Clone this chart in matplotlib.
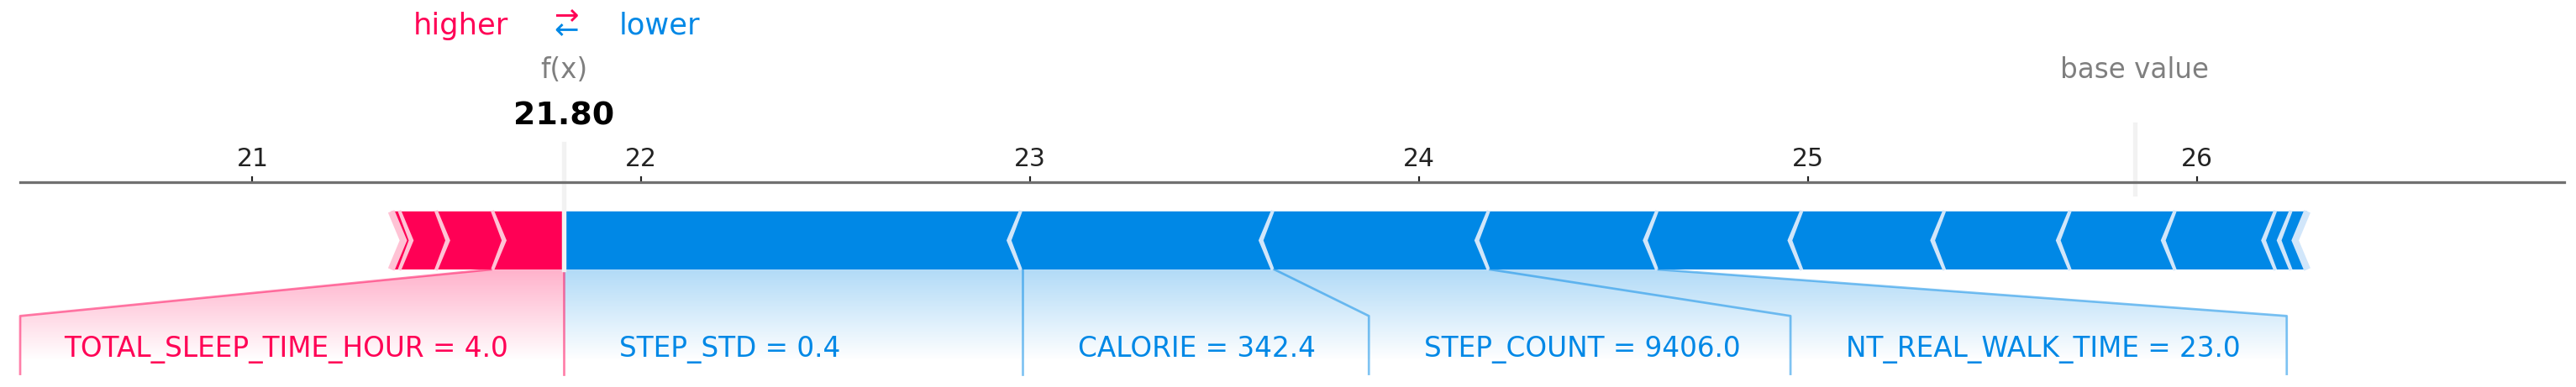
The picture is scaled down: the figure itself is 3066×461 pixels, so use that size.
import numpy as np
import matplotlib
matplotlib.use("Agg")
import matplotlib.pyplot as plt
from matplotlib import lines
from matplotlib.path import Path
from matplotlib.patches import PathPatch, Polygon
from matplotlib.font_manager import FontProperties
from matplotlib.ticker import MaxNLocator
import matplotlib.colors as mcolors

# ---------------- data (SHAP force plot) ----------------
base_value = 25.84
out_name = "f(x)"

# features pushing the prediction higher (positive SHAP values)
pos_effects = [0.188, 0.145, 0.094, 0.017]
pos_names = ["TOTAL_SLEEP_TIME_HOUR", None, None, None]
pos_values = ["4.0", None, None, None]

# features pushing the prediction lower (negative SHAP values)
neg_effects = [-1.179, -0.648, -0.555, -0.433, -0.372, -0.367, -0.323,
               -0.270, -0.258, -0.040, -0.038]
neg_names = ["STEP_STD", "CALORIE", "STEP_COUNT", "NT_REAL_WALK_TIME",
             None, None, None, None, None, None, None]
neg_values = ["0.4", "342.4", "9406.0", "23.0",
              None, None, None, None, None, None, None]

# ---------------- styling ----------------
POS_COL = "#FF0055"
POS_LIGHT = "#FFC3D5"
NEG_COL = "#0088E6"
NEG_LIGHT = "#D1E6FA"

DPI = 195.4
W, H = 3066, 461
fig = plt.figure(figsize=((W + 0.02) / DPI, (H + 0.02) / DPI), dpi=DPI)
fig.patch.set_facecolor("white")

ax_left_px, ax_right_px = 24, 3052
y_zero_px, y_scale = 321.0, 692.0
ylim = (-0.5, 0.15)
top_px = y_zero_px - y_scale * ylim[1]
bot_px = y_zero_px - y_scale * ylim[0]
ax = fig.add_axes([ax_left_px / W, 1 - bot_px / H,
                   (ax_right_px - ax_left_px) / W, (bot_px - top_px) / H])
ax.patch.set_alpha(0)

out_value = base_value + float(np.sum(pos_effects)) + float(np.sum(neg_effects))

pos_cum = out_value - np.cumsum(np.abs(pos_effects))
neg_cum = out_value + np.cumsum(np.abs(neg_effects))
total_pos = pos_cum.max() - pos_cum.min()
total_neg = neg_cum.max() - neg_cum.min()
offset_text = (abs(total_neg) + abs(total_pos)) * 0.04

# axis limits
ax.set_ylim(*ylim)
padding = max(abs(total_pos) * 0.2, abs(total_neg) * 0.2)
xmin = min(pos_cum.min(), base_value) - padding
xmax = max(neg_cum.max(), base_value) + padding
ax.set_xlim(xmin, xmax)
ax.tick_params(top=True, bottom=False, left=False, right=False,
               labelleft=False, labeltop=True, labelbottom=False,
               labelsize=11, length=2.6, pad=2.2, colors="#222222")
ax.xaxis.set_major_locator(MaxNLocator(nbins=12, steps=[1, 2, 2.5, 5, 10]))
for key, spine in ax.spines.items():
    if key != "top":
        spine.set_visible(False)
ax.spines["top"].set_color("#707070")
ax.spines["top"].set_linewidth(1.2)
ax.set_yticks([])

width_bar = 0.1
width_sep = (xmax - xmin) / 200


def draw_bars(cum, kind):
    pre_val = out_value
    for index, v in enumerate(cum):
        if kind == "positive":
            left, right = v, pre_val
            pre_val = left
            ind = abs(width_sep)
            sep_pos = left
            cols = [POS_COL, POS_LIGHT]
        else:
            left, right = pre_val, v
            pre_val = right
            ind = -abs(width_sep)
            sep_pos = right
            cols = [NEG_COL, NEG_LIGHT]
        if index == 0:
            if kind == "positive":
                pts = [[left, 0], [right, 0], [right, width_bar],
                       [left, width_bar], [left + ind, width_bar / 2]]
            else:
                pts = [[right, 0], [left, 0], [left, width_bar],
                       [right, width_bar], [right + ind, width_bar / 2]]
        else:
            pts = [[left, 0], [right, 0], [right + ind * 0.9, width_bar / 2],
                   [right, width_bar], [left, width_bar],
                   [left + ind * 0.9, width_bar / 2]]
        ax.add_patch(Polygon(pts, closed=True, fill=True, facecolor=cols[0], linewidth=0))
        ax.add_patch(Polygon([[sep_pos, 0], [sep_pos + ind, width_bar / 2],
                              [sep_pos, width_bar]], closed=False, fill=False,
                             edgecolor=cols[1], lw=3))


draw_bars(neg_cum, "negative")
draw_bars(pos_cum, "positive")


def draw_labels(cum, names, values, kind):
    start_text = out_value
    pre_val = out_value
    if kind == "positive":
        col, align, sign = POS_COL, "right", 1
        base_rgb = mcolors.to_rgb(POS_COL)
    else:
        col, align, sign = NEG_COL, "left", -1
        base_rgb = mcolors.to_rgb(NEG_COL)
    if kind == "positive":
        ln = lines.Line2D([pre_val, pre_val], [0, -0.18], lw=1.0, alpha=0.5, color=col)
        ln.set_clip_on(False)
        ax.add_line(ln)
    box_end = out_value
    for v, name, value in zip(cum, names, values):
        if name is None:
            break
        text = name + " = " + value
        t = ax.text(start_text - sign * offset_text, -0.15, text, fontsize=12,
                    color=col, ha=align, va="baseline")
        t.set_bbox(dict(facecolor="none", edgecolor="none"))
        fig.canvas.draw()
        box = t.get_bbox_patch().get_extents().transformed(ax.transData.inverted())
        box_end_ = box.get_points()[0][0] if kind == "positive" else box.get_points()[1][0]
        if box_end_ > ax.get_xlim()[1]:
            t.remove()
            break
        if sign * box_end_ > sign * v:
            ln = lines.Line2D([v, v], [0, -0.18], lw=1.0, alpha=0.5, color=col)
            ln.set_clip_on(False)
            ax.add_line(ln)
            start_text = v
            box_end = v
        else:
            box_end = box_end_ - sign * offset_text
            ln = lines.Line2D([v, box_end, box_end], [0, -0.08, -0.18],
                              lw=1.0, alpha=0.5, color=col)
            ln.set_clip_on(False)
            ax.add_line(ln)
            start_text = box_end
        pre_val = v

    path = Path([[out_value, 0], [pre_val, 0], [box_end, -0.08],
                 [box_end, -0.2], [out_value, -0.2], [out_value, 0]])
    patch = PathPatch(path, facecolor="none", edgecolor="none")
    ax.add_patch(patch)
    lo, hi = ax.get_xlim()
    if box_end < lo:
        ax.set_xlim(box_end, hi)
    if box_end > hi:
        ax.set_xlim(lo, box_end)
    cm = mcolors.LinearSegmentedColormap.from_list("cm", [base_rgb, (1, 1, 1)])
    _, Z2 = np.meshgrid(np.linspace(0, 10), np.linspace(-10, 10))
    im = ax.imshow(Z2, interpolation="quadric", cmap=cm, vmax=0.01, alpha=0.3,
                   origin="lower", extent=[out_value, box_end, 0, -0.31],
                   clip_path=patch, clip_on=True, aspect="auto")
    im.set_clip_path(patch)


draw_labels(neg_cum, neg_names, neg_values, "negative")
draw_labels(pos_cum, pos_names, pos_values, "positive")

# higher / lower legend
ax.text(out_value - offset_text, 0.405, "higher", fontsize=13, color=POS_COL, ha="right")
ax.text(out_value + offset_text, 0.405, "lower", fontsize=13, color=NEG_COL, ha="left")
ax.text(out_value, 0.4, r"$\leftarrow$", fontsize=13, color=NEG_COL, ha="center")
ax.text(out_value, 0.425, r"$\rightarrow$", fontsize=13, color=POS_COL, ha="center")

# base value element
ln = lines.Line2D([base_value, base_value], [0.13, 0.25], lw=2.0, color="#F2F2F2")
ln.set_clip_on(False)
ax.add_line(ln)
t = ax.text(base_value, 0.33, "base value", fontsize=12, alpha=0.5, ha="center")
t.set_bbox(dict(facecolor="white", edgecolor="white"))

# output element
ln = lines.Line2D([out_value, out_value], [0, 0.24], lw=2.0, color="#F2F2F2")
ln.set_clip_on(False)
ax.add_line(ln)
font = FontProperties()
font.set_weight("bold")
t = ax.text(out_value, 0.25, f"{out_value:.2f}", fontproperties=font, fontsize=14, ha="center")
t.set_bbox(dict(facecolor="white", edgecolor="white"))
t = ax.text(out_value, 0.33, out_name, fontsize=12, alpha=0.5, ha="center")
t.set_bbox(dict(facecolor="white", edgecolor="white"))

fig.savefig("out.png", dpi=DPI, facecolor="white")
